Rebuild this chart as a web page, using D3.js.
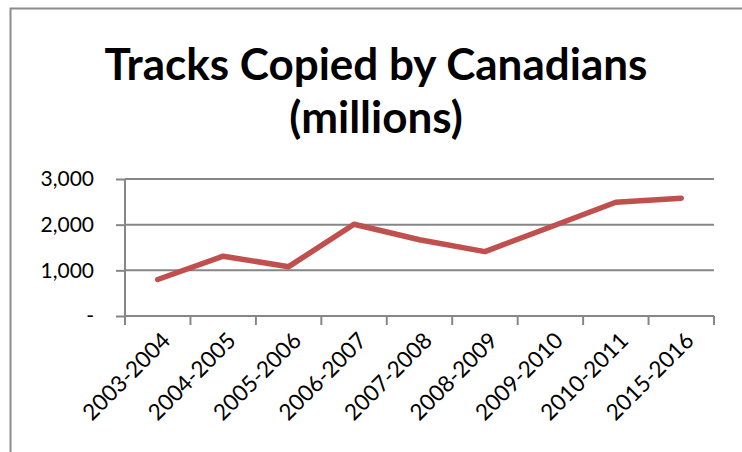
<!DOCTYPE html>
<html>
<head>
<meta charset="utf-8">
<script src="https://cdn.jsdelivr.net/npm/d3@7"></script>
<style>
  body { margin: 0; background: #fff; }
  svg { display: block; }
  .axis text { font-family: Lato, "Open Sans", sans-serif; fill: #000; }
</style>
</head>
<body>
<div id="chart"></div>
<script>
// chart data
var categories = ['2003-2004', '2004-2005', '2005-2006', '2006-2007', '2007-2008',
                  '2008-2009', '2009-2010', '2010-2011', '2015-2016'];
var tracks = [800, 1310, 1080, 2010, 1670, 1410, 1950, 2490, 2580];
var yTicks = [0, 1000, 2000, 3000];

var svgWidth = 742;
var svgHeight = 452;

var margin = {top: 179, right: 28, bottom: 136, left: 125};
var chartWidth = svgWidth - margin.left - margin.right;
var chartHeight = svgHeight - margin.top - margin.bottom;

var svg = d3.select('#chart')
    .append('svg')
    .attr('width', svgWidth)
    .attr('height', svgHeight);

// chart border (only left and top edges are in view)
svg.append('path')
    .attr('d', 'M10.5,' + svgHeight + 'V8.5H' + svgWidth)
    .attr('fill', 'none')
    .attr('stroke', '#8c8c8c')
    .attr('stroke-width', 2);

// title
var title = svg.append('text')
    .attr('text-anchor', 'middle')
    .attr('font-family', 'Lato, "Open Sans", sans-serif')
    .attr('font-weight', 'bold')
    .attr('font-size', 44)
    .attr('fill', '#000');
title.append('tspan').attr('x', 376).attr('y', 80).text('Tracks Copied by Canadians');
title.append('tspan').attr('x', 376).attr('y', 133).text('(millions)');

var chartGroup = svg.append('g')
    .attr('transform', `translate(${margin.left},${margin.top})`);

var xScale = d3.scaleBand()
    .domain(categories)
    .range([0, chartWidth]);

var yScale = d3.scaleLinear()
    .domain([0, 3000])
    .range([chartHeight, 0]);

// gridlines
chartGroup.append('g')
    .selectAll('line')
    .data(yTicks.slice(1))
    .enter()
    .append('line')
    .attr('x1', 0)
    .attr('x2', chartWidth)
    .attr('y1', d => yScale(d))
    .attr('y2', d => yScale(d))
    .attr('stroke', '#868686')
    .attr('stroke-width', 2);

// y axis
var leftAxis = d3.axisLeft(yScale)
    .tickValues(yTicks)
    .tickSize(9)
    .tickPadding(22)
    .tickFormat(d => d === 0 ? '-' : d3.format(',')(d));

var yAxis = chartGroup.append('g')
    .classed('axis', true)
    .call(leftAxis);
yAxis.select('.domain').remove();
yAxis.append('line')
    .attr('y1', 0)
    .attr('y2', chartHeight + 8)
    .attr('stroke', '#868686')
    .attr('stroke-width', 2);
yAxis.selectAll('line').attr('stroke', '#868686').attr('stroke-width', 2);
yAxis.selectAll('text').attr('font-size', 21);

// x axis
var xAxis = chartGroup.append('g')
    .classed('axis', true)
    .attr('transform', `translate(0,${chartHeight})`);
xAxis.append('line')
    .attr('x1', 0)
    .attr('x2', chartWidth)
    .attr('stroke', '#868686')
    .attr('stroke-width', 2);
xAxis.selectAll('.tick-mark')
    .data(d3.range(categories.length + 1))
    .enter()
    .append('line')
    .attr('class', 'tick-mark')
    .attr('x1', i => i * xScale.step())
    .attr('x2', i => i * xScale.step())
    .attr('y1', 0)
    .attr('y2', 9)
    .attr('stroke', '#868686')
    .attr('stroke-width', 2);
xAxis.selectAll('.xlabel')
    .data(categories)
    .enter()
    .append('text')
    .attr('class', 'xlabel')
    .attr('text-anchor', 'end')
    .attr('font-size', 22.5)
    .attr('transform', d => `translate(${xScale(d) + xScale.bandwidth() / 2 + 14},${26})rotate(-45)`)
    .text(d => d);

// data line
var line = d3.line()
    .x((d, i) => xScale(categories[i]) + xScale.bandwidth() / 2)
    .y(d => yScale(d));

chartGroup.append('path')
    .datum(tracks)
    .attr('d', line)
    .attr('fill', 'none')
    .attr('stroke', '#c0504d')
    .attr('stroke-width', 5.5)
    .attr('stroke-linecap', 'round')
    .attr('stroke-linejoin', 'round');
</script>
</body>
</html>
